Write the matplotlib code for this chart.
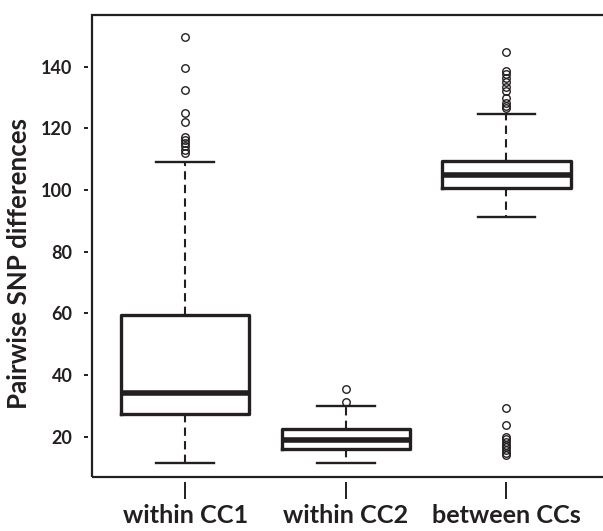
import matplotlib
matplotlib.use("Agg")
import matplotlib.pyplot as plt
from matplotlib.patches import Rectangle

plt.rcParams['font.family'] = ['Lato', 'DejaVu Sans']

# values (SNP differences)
groups = ["within CC1", "within CC2", "between CCs"]
q1 = [27.5, 15.9, 100.6]
med = [34.3, 19.0, 105.0]
q3 = [59.6, 22.6, 109.4]
whislo = [11.3, 11.5, 91.3]
whishi = [109.2, 29.8, 124.6]
fliers = [
    [149.5, 139.5, 132.5, 125.0, 122.2, 117.2, 116.2, 115.2, 114.2, 113.0, 112.0],
    [35.5, 31.3],
    [144.7, 138.7, 137.6, 136.5, 135.0, 133.5, 132.0, 130.0, 128.2, 127.2, 126.5,
     29.2, 23.8, 20.0, 19.2, 18.3, 17.4, 16.5, 15.6, 14.8, 14.1],
]
yticks = [20, 40, 60, 80, 100, 120, 140]
ylab = "Pairwise SNP differences"

ink = "#231f20"
W, H = 603, 531

stats = [dict(label=g, q1=a, med=m, q3=b, whislo=lo, whishi=hi, fliers=f)
         for g, a, m, b, lo, hi, f in zip(groups, q1, med, q3, whislo, whishi, fliers)]

fig = plt.figure(figsize=(W/100, H/100), dpi=100)
ax = fig.add_axes([92/W, 54/H, 514/W, 462/H])

ax.bxp(stats, positions=[1, 2, 3], widths=0.8, capwidths=0.36, patch_artist=False,
       boxprops=dict(color=ink, lw=2.4, solid_joinstyle='round'),
       medianprops=dict(color=ink, lw=4.0, solid_capstyle='butt'),
       whiskerprops=dict(color=ink, lw=1.5, linestyle=(0, (4, 2.5))),
       capprops=dict(color=ink, lw=1.7),
       flierprops=dict(marker='o', markerfacecolor='none', markeredgecolor=ink,
                       markersize=5.4, markeredgewidth=1.0))

ax.set_xlim(0.42, 3.62)
ax.set_ylim(6.9, 156.8)

# R-style box around the plot, ticks detached from it
ax.add_patch(Rectangle((0, 0), 1, 1, transform=ax.transAxes, fill=False,
                       lw=1.6, edgecolor=ink, clip_on=False, zorder=5))
for s in ax.spines.values():
    s.set_color('none')
ax.spines['left'].set_position(('outward', 3))
ax.spines['bottom'].set_position(('outward', 3.6))

ax.set_yticks(yticks)
ax.set_xticks([1, 2, 3])
ax.set_xticklabels(groups)
ax.tick_params(axis='y', length=3, width=1.4, color=ink, pad=8,
               labelsize=13, labelcolor=ink)
ax.tick_params(axis='x', length=12, width=1.4, color=ink, pad=4,
               labelsize=17.5, labelcolor=ink)
for lab in ax.get_yticklabels() + ax.get_xticklabels():
    lab.set_fontweight('bold')

yl = fig.text(19/W, 1 - 263/H, ylab, rotation=90, ha='center', va='center',
              fontsize=16, fontweight='bold', color=ink)

# scale fonts so the text spans about what it does in the reference
r = fig.canvas.get_renderer()
h = yl.get_window_extent(r).height
yl.set_fontsize(16 * 292 / h)
xl = ax.get_xticklabels()[0]
w = xl.get_window_extent(r).width
ax.tick_params(axis='x', labelsize=17.5 * 125 / w)

fig.savefig("out.png", dpi=100)
